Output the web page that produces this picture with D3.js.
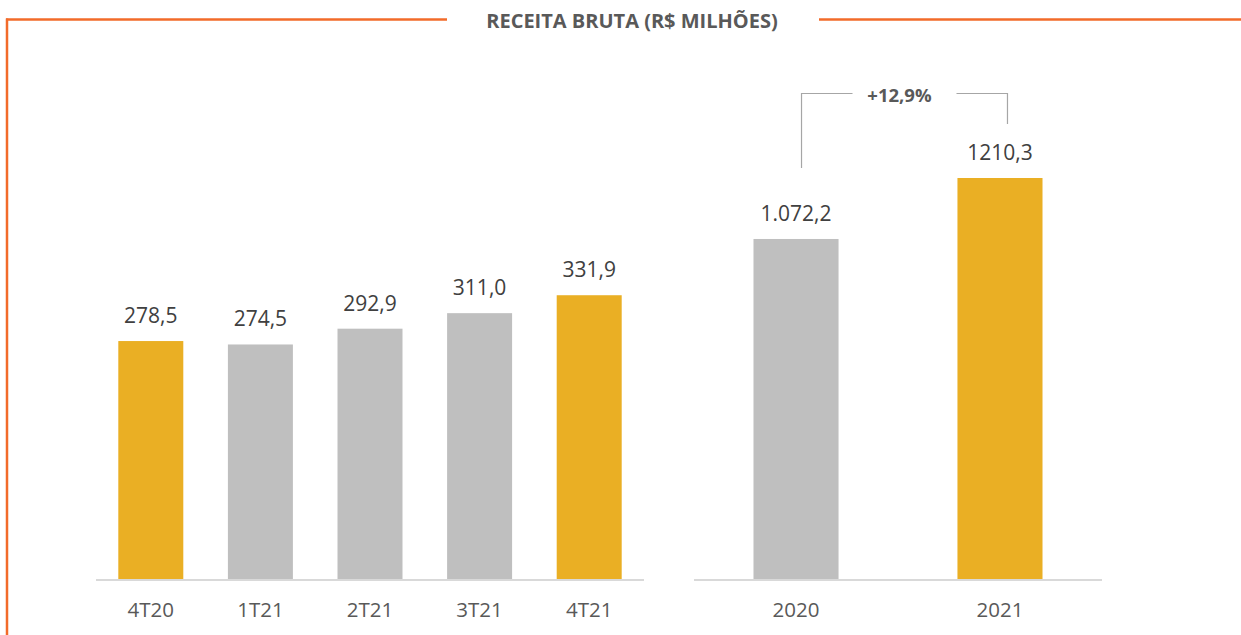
<!DOCTYPE html>
<html>
<head>
<meta charset="utf-8">
<script src="https://cdn.jsdelivr.net/npm/d3@7"></script>
<style>
  body { margin: 0; background: #fff; }
  svg text { font-family: "Open Sans", "DejaVu Sans", sans-serif; }
</style>
</head>
<body>
<svg id="chart" width="1241" height="635"></svg>
<script>
// data
var quarterLabels = ["4T20", "1T21", "2T21", "3T21", "4T21"];
var quarterValues = [278.5, 274.5, 292.9, 311.0, 331.9];
var quarterText = ["278,5", "274,5", "292,9", "311,0", "331,9"];
var quarterHighlight = [true, false, false, false, true];

var yearLabels = ["2020", "2021"];
var yearValues = [1072.2, 1210.3];
var yearText = ["1.072,2", "1210,3"];
var yearHighlight = [false, true];

var growthText = "+12,9%";
var titleText = "RECEITA BRUTA (R$ MILHÕES)";

var colGold = "#EAAF24";
var colGray = "#BFBFBF";
var colOrange = "#F26B2A";
var baseY = 580;

var svg = d3.select("#chart");

// frame + title
svg.append("line").attr("x1", 7).attr("x2", 7).attr("y1", 18.5).attr("y2", 635)
  .attr("stroke", colOrange).attr("stroke-width", 2.5);
svg.append("line").attr("x1", 6).attr("x2", 447).attr("y1", 19.5).attr("y2", 19.5)
  .attr("stroke", colOrange).attr("stroke-width", 2.5);
svg.append("line").attr("x1", 819).attr("x2", 1241).attr("y1", 19.5).attr("y2", 19.5)
  .attr("stroke", colOrange).attr("stroke-width", 2.5);
svg.append("text").attr("x", 632).attr("y", 27.5)
  .attr("text-anchor", "middle")
  .style("font-size", "20px").style("font-weight", "bold").style("fill", "#595959")
  .text(titleText);

function drawBars(labels, values, texts, highlight, x, y) {
  var g = svg.append("g");

  g.append("line")
    .attr("x1", x.range()[0]).attr("x2", x.range()[1])
    .attr("y1", baseY).attr("y2", baseY)
    .attr("stroke", "#D9D9D9").attr("stroke-width", 2);

  g.selectAll("rect.bar").data(values).enter().append("rect")
    .attr("class", "bar")
    .attr("x", function(d, i) { return x(labels[i]); })
    .attr("width", x.bandwidth())
    .attr("y", function(d) { return y(d); })
    .attr("height", function(d) { return baseY - 1 - y(d); })
    .attr("fill", function(d, i) { return highlight[i] ? colGold : colGray; });

  g.selectAll("text.val").data(values).enter().append("text")
    .attr("class", "val")
    .attr("x", function(d, i) { return x(labels[i]) + x.bandwidth() / 2; })
    .attr("y", function(d) { return y(d) - 18; })
    .attr("text-anchor", "middle")
    .style("font-size", "21px").style("fill", "#404040")
    .text(function(d, i) { return texts[i]; });

  g.selectAll("text.cat").data(labels).enter().append("text")
    .attr("class", "cat")
    .attr("x", function(d) { return x(d) + x.bandwidth() / 2; })
    .attr("y", 617)
    .attr("text-anchor", "middle")
    .style("font-size", "20.5px").style("fill", "#595959")
    .text(function(d) { return d; });
}

// quarterly chart
var xq = d3.scaleBand().domain(quarterLabels).range([96, 644]).paddingInner(0.407).paddingOuter(0.2035);
var yq = d3.scaleLinear().domain([0, 400]).range([baseY, baseY - 343.2]);
drawBars(quarterLabels, quarterValues, quarterText, quarterHighlight, xq, yq);

// yearly chart
var xy = d3.scaleBand().domain(yearLabels).range([694, 1102]).paddingInner(0.583).paddingOuter(0.2917);
var yy = d3.scaleLinear().domain([300, 1210.3]).range([baseY, 178]);
drawBars(yearLabels, yearValues, yearText, yearHighlight, xy, yy);

// growth bracket
var bx1 = xy(yearLabels[0]) + xy.bandwidth() / 2 + 5.5;
var bx2 = xy(yearLabels[1]) + xy.bandwidth() / 2 + 7.5;
var bTop = 93.5;
var bMid = (bx1 + bx2) / 2;
var bracket = svg.append("g").attr("fill", "none").attr("stroke", "#A6A6A6").attr("stroke-width", 1.2);
bracket.append("polyline")
  .attr("points", [[bx1, yy(yearValues[0]) - 71], [bx1, bTop], [bMid - 52, bTop]].join(" "));
bracket.append("polyline")
  .attr("points", [[bMid + 52, bTop], [bx2, bTop], [bx2, yy(yearValues[1]) - 54]].join(" "));
svg.append("text").attr("x", bMid - 5).attr("y", 102)
  .attr("text-anchor", "middle")
  .style("font-size", "18.5px").style("font-weight", "bold").style("fill", "#595959")
  .text(growthText);
</script>
</body>
</html>
